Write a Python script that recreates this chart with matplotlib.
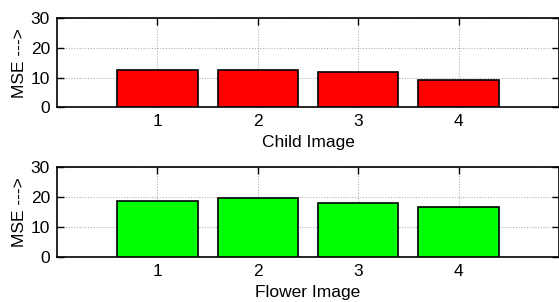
import matplotlib.pyplot as plt

# MSE values per image
image_ids = [1, 2, 3, 4]
child_mse = [12.4, 12.6, 11.7, 9.2]
flower_mse = [18.7, 19.6, 18.1, 16.6]

plt.rcParams['font.family'] = ['Liberation Sans', 'DejaVu Sans']
plt.rcParams['font.size'] = 12.5

fig = plt.figure(figsize=(5.59, 3.02), dpi=100)
ax1 = fig.add_axes([57 / 559, 1 - 107.3 / 302, 502 / 559, 89.3 / 302])
ax2 = fig.add_axes([57 / 559, 1 - 257 / 302, 502 / 559, 89.7 / 302])

for ax, vals, col, lab in [(ax1, child_mse, '#ff0000', 'Child Image'),
                            (ax2, flower_mse, '#00ff00', 'Flower Image')]:
    ax.bar(image_ids, vals, width=0.8, color=col, edgecolor='black', linewidth=1.2, zorder=3)
    ax.set_xlim(0, 5)
    ax.set_ylim(0, 30)
    ax.set_xticks(image_ids)
    ax.set_yticks([0, 10, 20, 30])
    ax.grid(True, linestyle=(0, (1, 1.5)), color='#b0b0b0', linewidth=0.8, zorder=0)
    ax.tick_params(direction='in', top=True, right=True, length=5, width=1, pad=5)
    for s in ax.spines.values():
        s.set_linewidth(1.2)
    ax.set_xlabel(lab, labelpad=4)
    ax.set_ylabel('MSE --->', labelpad=3)

fig.savefig('out.png', dpi=100)
